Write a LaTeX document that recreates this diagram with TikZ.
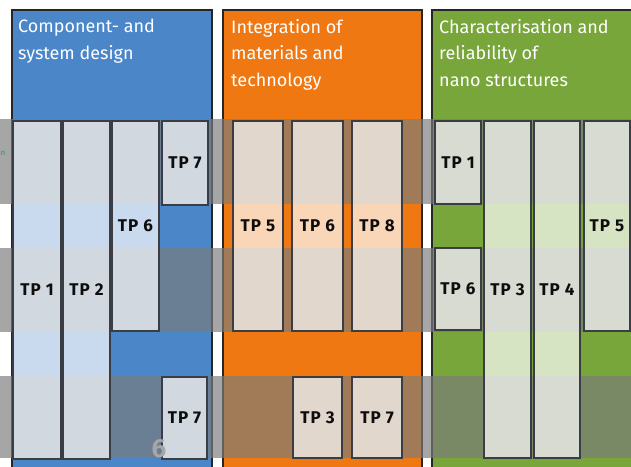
\documentclass[tikz,border=0pt]{standalone}
\usepackage{fontspec}
\setmainfont{Fira Sans}
\newfontfamily\tpfont{Fira Sans}[LetterSpace=6]
\definecolor{bluep}{RGB}{74,134,200}
\definecolor{orangep}{RGB}{240,120,18}
\definecolor{greenp}{RGB}{120,166,58}
\definecolor{bandgray}{RGB}{123,123,123}
\definecolor{tpline}{RGB}{58,62,68}
\definecolor{frag}{RGB}{40,150,110}
\begin{document}
\begin{tikzpicture}[x=1pt,y=-1pt,
  panel/.style={draw=black!85,line width=1.2pt},
  band/.style={fill=bandgray,fill opacity=0.67,draw=none},
  tpbox/.style={draw=tpline,line width=1.5pt,fill=white,fill opacity=0.7,text opacity=1,
    inner sep=0pt,font=\tpfont\bfseries\fontsize{17}{17}\selectfont,text=black!95},
  title/.style={anchor=north west,align=left,text=white,inner sep=0pt,
    font=\fontsize{18}{26.5}\selectfont}]
\newcommand\tpb[6]{\node[tpbox,minimum width={(#4-#2)*1pt},minimum height={(#5-#3)*1pt}] (#1) at ({(#2+#4)/2},{(#3+#5)/2}) {#6};}
\useasboundingbox (0,0) rectangle (631,466);
\clip (0,0) rectangle (631,466);
% panels
\path[panel,fill=bluep] (12,10) rectangle (212,480);
\path[panel,fill=orangep] (223,10) rectangle (422,480);
\path[panel,fill=greenp] (432,10) rectangle (640,480);
% bands
\path[band] (0,119) rectangle (631,204);
\path[band] (0,248) rectangle (631,332);
\path[band] (0,376) rectangle (631,458);
% titles
\node[title] (t1) at (18,19) {Component- and\\system design};
\node[title] (t2) at (231,19) {Integration of\\materials and\\technology};
\node[title] (t3) at (439,19) {Characterisation and\\reliability of\\nano structures};
% blue boxes
\tpb{b1}{13}{121}{61}{459}{TP 1}
\tpb{b2}{63}{121}{110}{459}{TP 2}
\tpb{b6}{112}{121}{159}{331}{TP 6}
\tpb{b7a}{162}{121}{208}{205}{TP 7}
\tpb{b7b}{162}{377}{207}{459}{TP 7}
% orange boxes
\tpb{o5}{233}{121}{283}{331}{TP 5}
\tpb{o6}{292}{121}{343}{331}{TP 6}
\tpb{o8}{352}{121}{402}{331}{TP 8}
\tpb{o3}{293}{377}{342}{458}{TP 3}
\tpb{o7}{352}{377}{402}{458}{TP 7}
% green boxes
\tpb{g1}{435}{121}{481}{204}{TP 1}
\tpb{g6}{435}{248}{481}{330}{TP 6}
\tpb{g3}{484}{121}{531}{458}{TP 3}
\tpb{g4}{534}{121}{580}{458}{TP 4}
\tpb{g5}{584}{121}{630}{331}{TP 5}
% fragments
\node[anchor=base west,inner sep=0pt,text=frag,font=\fontsize{8}{8}\selectfont] (fr) at (0.5,155) {n};
\node[inner sep=0pt,text=gray!70,font=\bfseries\fontsize{26}{26}\selectfont] (pg) at (159,449) {6};
\end{tikzpicture}
\end{document}
